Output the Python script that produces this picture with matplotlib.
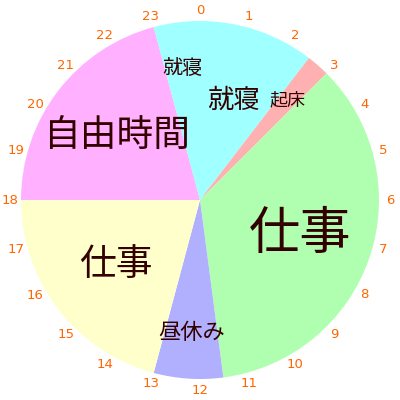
import matplotlib
matplotlib.use('Agg')
import matplotlib.pyplot as plt
import numpy as np

plt.rcParams['font.family'] = ['Noto Sans CJK JP', 'DejaVu Sans']

# 1日のスケジュール (時間)
labels = ['就寝', '起床', '仕事', '昼休み', '仕事', '自由時間', '就寝']
hours = [2.5, 0.5, 8.5, 1.5, 5, 5, 1]
colors = ['#a0ffff', '#ffb0b0', '#b0ffb0', '#b0b0ff', '#ffffcc', '#ffb0ff', '#a0ffff']
hour_ticks = list(range(24))

R = 179.0
fig = plt.figure(figsize=(4, 4), dpi=100)
ax = fig.add_axes([0, 0, 1, 1])

ax.pie(hours, colors=colors, startangle=90, counterclock=False,
       radius=1, wedgeprops={'linewidth': 0})

# pie() がリミットを変えるので後で設定
ax.set_xlim(-200 / R, 200 / R)
ax.set_ylim(-200 / R, 200 / R)
ax.set_aspect('equal')
ax.axis('off')

# スライスのラベル (大きいスライスほど文字を大きく)
start = 0.0
for lab, h in zip(labels, hours):
    mid = (start + h / 2) / 24 * 2 * np.pi
    r = 0.74 if h < 2 else 0.59
    px = 16 + 4.15 * h
    ax.text(r * np.sin(mid), r * np.cos(mid), lab, ha='center', va='center',
            fontsize=px * 0.72, color='#330000')
    start += h

# 時刻の目盛り
for t in hour_ticks:
    a = t / 24 * 2 * np.pi
    r = 190 / R
    ax.text(r * np.sin(a), r * np.cos(a), str(t), ha='center', va='center',
            fontsize=9.5, color='#ff6600', family='DejaVu Sans')

fig.savefig('out.png', dpi=100)
